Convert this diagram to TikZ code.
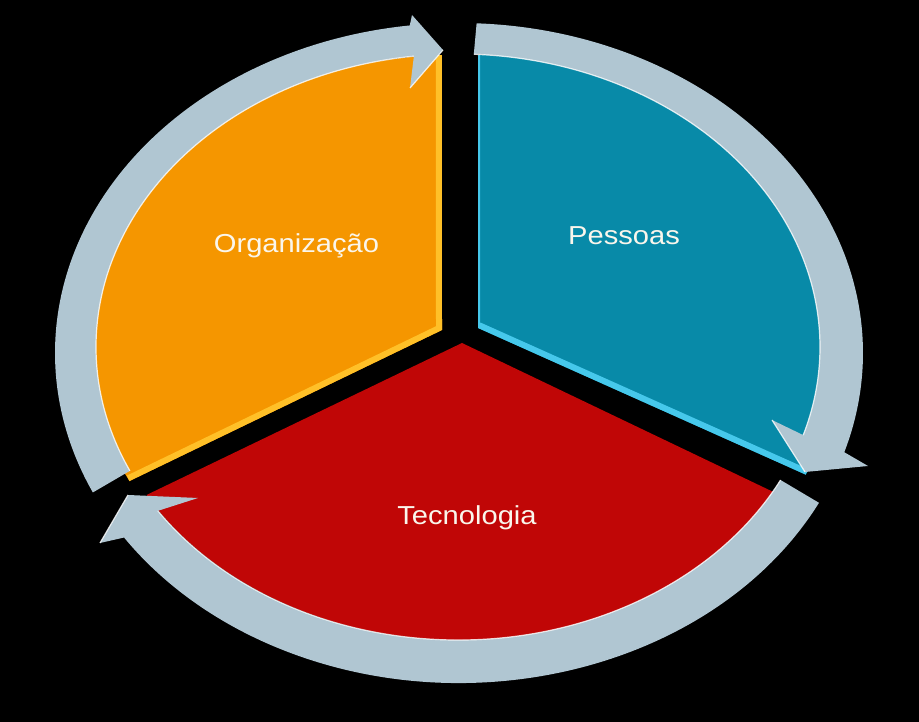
\documentclass[tikz,border=0pt]{standalone}
\usepackage{fontspec}
\setmainfont{Liberation Sans}
\newfontfamily\labelfont{Liberation Sans}[FakeStretch=1.12]
\usetikzlibrary{calc}
\definecolor{orangefill}{RGB}{245,150,0}
\definecolor{orangeedge}{RGB}{255,192,40}
\definecolor{tealfill}{RGB}{8,138,168}
\definecolor{tealedge}{RGB}{70,200,235}
\definecolor{redfill}{RGB}{192,6,6}
\definecolor{ringfill}{RGB}{176,198,210}
\definecolor{labeltext}{RGB}{250,246,236}
\tikzset{
	orangestyle/.style={fill=orangefill},
	tealstyle/.style={fill=tealfill},
	redstyle/.style={fill=redfill},
	ringstyle/.style={fill=ringfill},
	edgestyle/.style={line width=12pt},
	shinestyle/.style={draw=white,line width=1.2pt,opacity=0.8},
	labelstyle/.style={text=labeltext,anchor=base,font=\labelfont\fontsize{26}{30}\selectfont}
}

\begin{document}
\begin{tikzpicture}[x=1pt,y=1pt]
	\useasboundingbox (0,0) rectangle (919,722);
	\fill[black] (0,0) rectangle (919,722);
	\coordinate (oc) at (452,374);
	\coordinate (tc) at (475,372);
	\coordinate (rc) at (460,372);
	\coordinate (outc) at (459,369);
	\coordinate (inc) at (458,375);
	\coordinate (ov) at (442,392);
	\coordinate (tv) at (478,394);
	\coordinate (rv) at (462,379);
	\coordinate (otop) at ($(oc)+(91.6:362 and 293)$);
	\coordinate (olow) at ($(oc)+(207:362 and 293)$);
	\coordinate (ttop) at ($(tc)+(89.5:365 and 295)$);
	\coordinate (tlow) at ($(tc)+(-25:365 and 295)$);
	\coordinate (rright) at ($(rc)+(-29.5:362 and 290)$);
	\fill[orangestyle,path picture={\draw[edgestyle,orangeedge] (otop) -- (ov) -- (olow);}]
		(ov) -- (otop) arc[start angle=91.6,end angle=207,x radius=362,y radius=293] -- cycle;
	\fill[tealstyle,path picture={\draw[edgestyle,tealedge] (tv) -- (tlow); \draw[line width=4pt,tealedge] (ttop) -- (tv);}]
		(tv) -- (ttop) arc[start angle=89.5,end angle=-25,x radius=365,y radius=295] -- cycle;
	\fill[redstyle] (rv) -- (rright) arc[start angle=-29.5,end angle=-150,x radius=362,y radius=290] -- cycle;
	\fill[ringstyle] ($(outc)+(205:404 and 330)$) arc[start angle=205,end angle=97,x radius=404,y radius=330]
		-- (412,707) -- (443,672) -- (410,634) -- ($(inc)+(97:362 and 293)$)
		arc[start angle=97,end angle=205,x radius=362,y radius=293] -- cycle;
	\fill[ringstyle] ($(outc)+(87.5:404 and 330)$) arc[start angle=87.5,end angle=-17.5,x radius=404,y radius=330]
		-- (868,256) -- (805,250) -- (772,302) -- ($(inc)+(-17.5:362 and 293)$)
		arc[start angle=-17.5,end angle=87.5,x radius=362,y radius=293] -- cycle;
	\fill[ringstyle] ($(outc)+(-27:404 and 330)$) arc[start angle=-27,end angle=-146,x radius=404,y radius=330]
		-- (100,179) -- (128,227) -- (198,224) -- ($(inc)+(-146:362 and 293)$)
		arc[start angle=-146,end angle=-27,x radius=362,y radius=293] -- cycle;
	\draw[shinestyle] ($(inc)+(97:362 and 293)$) arc[start angle=97,end angle=205,x radius=362,y radius=293];
	\draw[shinestyle] ($(inc)+(-17.5:362 and 293)$) arc[start angle=-17.5,end angle=87.5,x radius=362,y radius=293];
	\draw[shinestyle] ($(inc)+(-146:362 and 293)$) arc[start angle=-146,end angle=-27,x radius=362,y radius=293];
	\draw[shinestyle] (443,672) -- (410,634);
	\draw[shinestyle] (805,250) -- (772,302);
	\draw[shinestyle] (128,227) -- (100,179);
	\node[labelstyle] (org) at (296.5,469) {Organização};
	\node[labelstyle] (pes) at (624,477) {Pessoas};
	\node[labelstyle] (tec) at (467,197) {Tecnologia};
\end{tikzpicture}
\end{document}
